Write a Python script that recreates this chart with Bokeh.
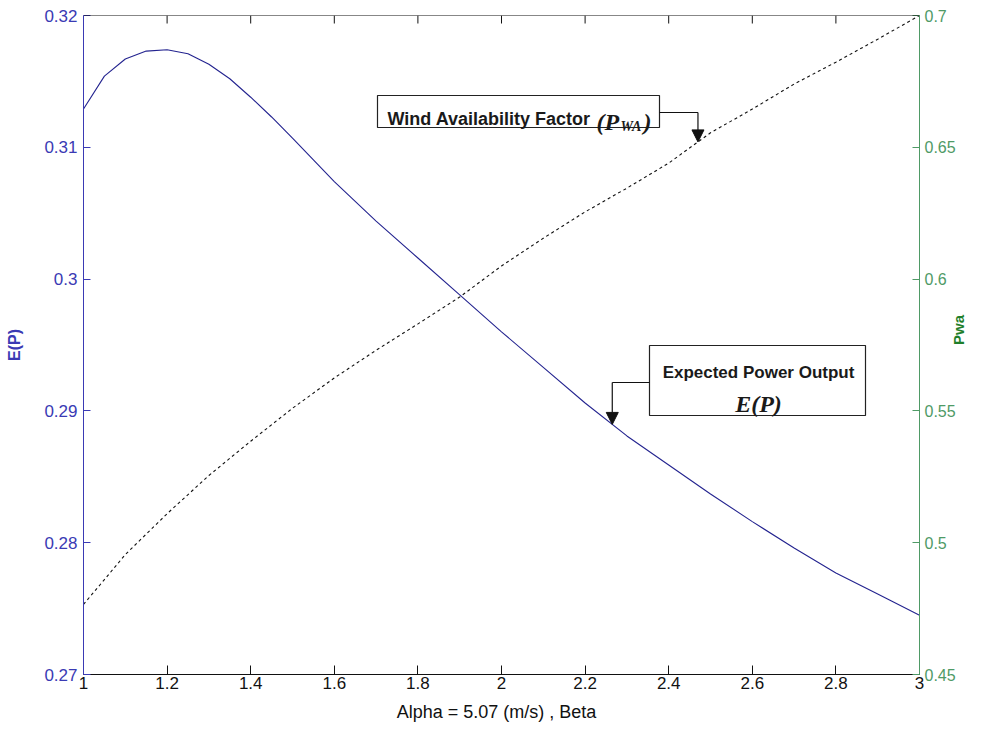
import math
import numpy as np
from bokeh.plotting import figure
from bokeh.models import (Range1d, LinearAxis, FixedTicker, BoxAnnotation, Label,
                          Arrow, NormalHead, Span)
from bokeh.embed import file_html
from bokeh.resources import INLINE

# ---------------- data ----------------
beta = [1.0, 1.05, 1.1, 1.15, 1.2, 1.25, 1.3, 1.35, 1.4, 1.45, 1.5, 1.6, 1.7,
        1.8, 1.9, 2.0, 2.1, 2.2, 2.3, 2.4, 2.5, 2.6, 2.7, 2.8, 2.9, 3.0]
expected_power = [0.3129, 0.3154, 0.3167, 0.3173, 0.3174, 0.3171, 0.3163, 0.3152,
                  0.3138, 0.3123, 0.3107, 0.3074, 0.3044, 0.3016, 0.2988, 0.2960,
                  0.2933, 0.2906, 0.2881, 0.2859, 0.2837, 0.2816, 0.2796, 0.2777,
                  0.2761, 0.2745]

beta_pwa = [1.0, 1.05, 1.1, 1.2, 1.3, 1.4, 1.5, 1.6, 1.7, 1.8, 1.9, 2.0, 2.1,
            2.2, 2.3, 2.4, 2.5, 2.6, 2.7, 2.8, 2.9, 3.0]
pwa = [0.4766, 0.4860, 0.4955, 0.5110, 0.5255, 0.5385, 0.5510, 0.5625, 0.5730,
       0.5830, 0.5932, 0.6050, 0.6155, 0.6255, 0.6345, 0.6440, 0.6555, 0.6645,
       0.6740, 0.6823, 0.6910, 0.7000]

x_ticks = [1.0, 1.2, 1.4, 1.6, 1.8, 2.0, 2.2, 2.4, 2.6, 2.8, 3.0]
x_tick_labels = ["1", "1.2", "1.4", "1.6", "1.8", "2", "2.2", "2.4", "2.6", "2.8", "3"]
ep_ticks = [0.27, 0.28, 0.29, 0.30, 0.31, 0.32]
ep_tick_labels = ["0.27", "0.28", "0.29", "0.3", "0.31", "0.32"]
pwa_ticks = [0.45, 0.50, 0.55, 0.60, 0.65, 0.70]
pwa_tick_labels = ["0.45", "0.5", "0.55", "0.6", "0.65", "0.7"]

arrow_beta_pwa = 2.47      # where the P_WA annotation points
arrow_beta_ep = 2.265      # where the E(P) annotation points

# ---------------- styling ----------------
BLUE = "#3a3ab4"
CURVE_BLUE = "#23238f"
GREEN = "#4f9a66"
GREEN_LABEL = "#1f7f2a"
INK = "#111111"
SANS = "Liberation Sans"
SERIF = "Liberation Serif"

X0, X1 = 1.0, 3.0
Y0, Y1 = 0.27, 0.32
P0, P1 = 0.45, 0.70
FW, FH = 836, 659
BL, BT, BR, BB = 83, 15, 60, 52

p = figure(frame_width=FW, frame_height=FH,
           x_range=Range1d(X0, X1), y_range=Range1d(Y0, Y1),
           output_backend="svg", toolbar_location=None,
           min_border_left=BL, min_border_top=BT, min_border_right=BR,
           min_border_bottom=BB, background_fill_color="white",
           border_fill_color="white")
p.extra_y_ranges = {"pwa": Range1d(P0, P1)}
p.outline_line_color = None
p.xgrid.visible = False
p.ygrid.visible = False

# page-pixel helpers for annotation placement (frame origin on page)
FL_PAGE, FT_PAGE = BL, BT


def sx(px):
    return X0 + (px - FL_PAGE) * (X1 - X0) / FW


def sy(py):
    return Y1 - (py - FT_PAGE) * (Y1 - Y0) / FH


def pwa_to_left(v):
    return Y0 + (v - P0) * (Y1 - Y0) / (P1 - P0)


# bottom x axis
xa = p.xaxis[0]
xa.ticker = FixedTicker(ticks=x_ticks)
xa.major_label_overrides = dict(zip(x_ticks, x_tick_labels))
xa.axis_label = "Alpha = 5.07  (m/s) ,  Beta"
xa.axis_label_text_font = SANS
xa.axis_label_text_font_style = "normal"
xa.axis_label_text_font_size = "18px"
xa.axis_label_text_color = INK
xa.axis_label_standoff = 10
xa.major_label_text_font = SANS
xa.major_label_text_font_size = "17px"
xa.major_label_text_color = INK
xa.major_label_standoff = 2
xa.major_tick_in = 9
xa.major_tick_out = 0
xa.minor_tick_line_color = None
xa.axis_line_color = INK
xa.major_tick_line_color = INK

# top frame edge with inward ticks (no labels)
p.add_layout(Span(location=Y1, dimension="width", line_color=INK, line_width=1))
tick_len = 8 * (Y1 - Y0) / FH
p.segment(x0=x_ticks, y0=[Y1] * len(x_ticks), x1=x_ticks,
          y1=[Y1 - tick_len] * len(x_ticks), line_color=INK, line_width=1)

# left y axis
ya = p.yaxis[0]
ya.ticker = FixedTicker(ticks=ep_ticks)
ya.major_label_overrides = dict(zip(ep_ticks, ep_tick_labels))
ya.axis_label = "E(P)"
ya.axis_label_text_font = SANS
ya.axis_label_text_font_style = "bold"
ya.axis_label_text_font_size = "16px"
ya.axis_label_text_color = BLUE
ya.axis_label_standoff = 18
ya.major_label_text_font = SANS
ya.major_label_text_font_size = "17px"
ya.major_label_text_color = BLUE
ya.major_label_standoff = 6
ya.major_tick_in = 7
ya.major_tick_out = 0
ya.minor_tick_line_color = None
ya.axis_line_color = BLUE
ya.major_tick_line_color = BLUE

# right y axis
ra = LinearAxis(y_range_name="pwa", ticker=FixedTicker(ticks=pwa_ticks))
ra.major_label_overrides = dict(zip(pwa_ticks, pwa_tick_labels))
ra.axis_label = "Pwa"
ra.axis_label_text_font = SANS
ra.axis_label_text_font_style = "bold"
ra.axis_label_text_font_size = "15px"
ra.axis_label_text_color = GREEN_LABEL
ra.axis_label_standoff = 0
ra.axis_label_orientation = math.pi / 2
ra.major_label_text_font = SANS
ra.major_label_text_font_size = "16px"
ra.major_label_text_color = GREEN
ra.major_label_standoff = 5
ra.major_tick_in = 7
ra.major_tick_out = 0
ra.minor_tick_line_color = None
ra.axis_line_color = GREEN
ra.major_tick_line_color = GREEN
p.add_layout(ra, "right")

# curves
p.line(beta, expected_power, line_color=CURVE_BLUE, line_width=1.1)
p.line(beta_pwa, pwa, y_range_name="pwa", line_color=INK, line_width=1.1,
       line_dash="3 3")

# ---------------- annotations ----------------
tip1_x = arrow_beta_pwa
tip1_y = pwa_to_left(float(np.interp(arrow_beta_pwa, beta_pwa, pwa)))
tip2_x = arrow_beta_ep
tip2_y = float(np.interp(arrow_beta_ep, beta, expected_power))

box1 = BoxAnnotation(left=sx(377), right=sx(659), top=sy(95), bottom=sy(127),
                     fill_color="white", fill_alpha=1.0, line_color="#222222",
                     line_width=1.2, line_alpha=1.0)
box2 = BoxAnnotation(left=sx(649), right=sx(865), top=sy(345), bottom=sy(415),
                     fill_color="white", fill_alpha=1.0, line_color="#222222",
                     line_width=1.2, line_alpha=1.0)
p.add_layout(box1)
p.add_layout(box2)

# connectors
p.add_layout(Arrow(start=None, end=None, x_start=sx(659), y_start=sy(112),
                   x_end=tip1_x, y_end=sy(112), line_color=INK, line_width=1.2))
p.add_layout(Arrow(start=None,
                   end=NormalHead(size=12, fill_color=INK, line_color=INK),
                   x_start=tip1_x, y_start=sy(112), x_end=tip1_x, y_end=tip1_y,
                   line_color=INK, line_width=1.2))
p.add_layout(Arrow(start=None, end=None, x_start=sx(649), y_start=sy(382),
                   x_end=tip2_x, y_end=sy(382), line_color=INK, line_width=1.2))
p.add_layout(Arrow(start=None,
                   end=NormalHead(size=12, fill_color=INK, line_color=INK),
                   x_start=tip2_x, y_start=sy(382), x_end=tip2_x, y_end=tip2_y,
                   line_color=INK, line_width=1.2))

# texts
p.add_layout(Label(x=sx(387), y=sy(118), text="Wind Availability Factor",
                   text_font=SANS, text_font_style="bold", text_font_size="18px",
                   text_color="#1a1a1a", text_align="left", text_baseline="alphabetic"))
p.add_layout(Label(x=sx(596), y=sy(121), text="(P",
                   text_font=SERIF, text_font_style="bold italic", text_font_size="24px",
                   text_color="#1a1a1a", text_align="left", text_baseline="alphabetic"))
p.add_layout(Label(x=sx(620), y=sy(126), text="WA",
                   text_font=SERIF, text_font_style="bold italic", text_font_size="14px",
                   text_color="#1a1a1a", text_align="left", text_baseline="alphabetic"))
p.add_layout(Label(x=sx(643), y=sy(121), text=")",
                   text_font=SERIF, text_font_style="bold italic", text_font_size="24px",
                   text_color="#1a1a1a", text_align="left", text_baseline="alphabetic"))
p.add_layout(Label(x=sx(758), y=sy(372), text="Expected Power Output",
                   text_font=SANS, text_font_style="bold", text_font_size="17px",
                   text_color="#1a1a1a", text_align="center", text_baseline="alphabetic"))
p.add_layout(Label(x=sx(758), y=sy(403), text="E(P)",
                   text_font=SERIF, text_font_style="bold italic", text_font_size="24px",
                   text_color="#1a1a1a", text_align="center", text_baseline="alphabetic"))

open("out.html", "w").write(file_html(p, INLINE))
